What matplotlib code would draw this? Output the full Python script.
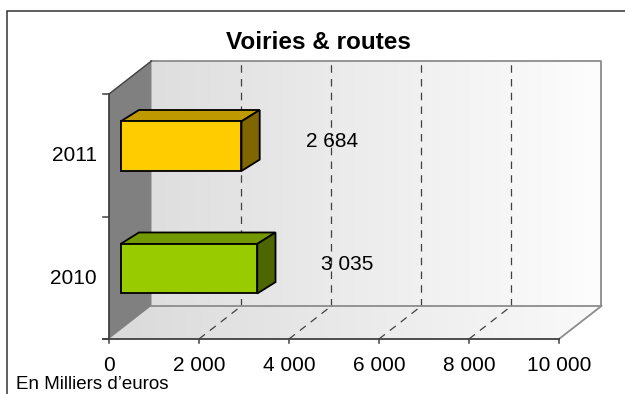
import numpy as np
import matplotlib
matplotlib.use('Agg')
import matplotlib.pyplot as plt
from matplotlib.patches import Polygon, Rectangle

# Données
categories = ['2010', '2011']
valeurs = [3035, 2684]
labels_valeurs = ['3 035', '2 684']
couleurs_face = ['#99CC00', '#FFCC00']
couleurs_dessus = ['#739900', '#BF9900']
couleurs_cote = ['#4D6600', '#806600']
ticks_x = [0, 2000, 4000, 6000, 8000, 10000]
labels_ticks_x = ['0', '2 000', '4 000', '6 000', '8 000', '10 000']

plt.rcParams['font.family'] = ['Liberation Sans', 'DejaVu Sans']

# Projection pseudo 3D (profondeur des murs, en unités de données)
xmax = 10000
dx, dy = 944, 0.27          # décalage du mur du fond
bx, by = 260, 0.074         # position des barres en profondeur
bdx, bdy = 405, 0.093       # épaisseur des barres
h_barre = 0.405
dark = '#404040'
gris_bord = '#8C8C8C'

fig = plt.figure(figsize=(6.25, 3.94), dpi=100)
ax = fig.add_axes([0, 0, 1, 1])
ax.axis('off')

# Cadre extérieur
fig.patches.append(Rectangle((7 / 625, -0.1), 1.2, 1.1 - 11 / 394, transform=fig.transFigure,
                             fill=False, edgecolor='#333333', linewidth=1.1))

# Mur du fond avec dégradé
grad = np.linspace(0, 1, 256).reshape(1, -1)
ax.imshow(grad, cmap=matplotlib.colors.LinearSegmentedColormap.from_list('g', ['#DEDEDE', '#FDFDFD']),
          extent=(dx, xmax + dx, dy, 2 + dy), aspect='auto', zorder=1)
ax.plot([dx, xmax + dx, xmax + dx], [2 + dy, 2 + dy, dy], color=gris_bord, lw=1.3, zorder=3)

# Sol avec dégradé
sol = Polygon([(0, 0), (xmax, 0), (xmax + dx, dy), (dx, dy)], closed=True,
              facecolor='none', edgecolor='none')
ax.add_patch(sol)
im = ax.imshow(grad, cmap=matplotlib.colors.LinearSegmentedColormap.from_list('s', ['#DADADA', '#FAFAFA']),
               extent=(0, xmax + dx, 0, dy), aspect='auto', zorder=1)
im.set_clip_path(sol)
ax.plot([dx, xmax + dx], [dy, dy], color=gris_bord, lw=1.3, zorder=3)
ax.plot([xmax, xmax + dx], [0, dy], color=gris_bord, lw=1.3, zorder=3)

# Mur de gauche
ax.add_patch(Polygon([(0, 0), (0, 2), (dx, 2 + dy), (dx, dy)], closed=True,
                     facecolor='#808080', edgecolor='none', zorder=2))
ax.plot([0, dx], [2, 2 + dy], color=dark, lw=1.0, zorder=3)

# Quadrillage en pointillés
for t in ticks_x[1:-1]:
    ax.plot([t + dx, t + dx], [dy, 2 + dy], color=dark, lw=0.9, dashes=(6, 5), zorder=2)
    ax.plot([t, t + dx], [0, dy], color=dark, lw=0.9, dashes=(6, 5), zorder=2)

# Axes
ax.plot([-130, xmax], [0, 0], color=dark, lw=1.3, zorder=4)
ax.plot([0, 0], [0, 2], color=dark, lw=1.3, zorder=4)
for t, lab in zip(ticks_x, labels_ticks_x):
    ax.plot([t, t], [0, -0.035], color=dark, lw=1.1, zorder=4)
    ax.text(t, -0.262, lab, ha='center', va='baseline', fontsize=15)
for yt in [0, 1, 2]:
    ax.plot([-135, 0], [yt, yt], color=dark, lw=1.1, zorder=4)

# Barres 3D
for i, (cat, v) in enumerate(zip(categories, valeurs)):
    x0 = bx
    y0 = i + 0.5 - h_barre / 2 + by
    face = [(x0, y0), (x0 + v, y0), (x0 + v, y0 + h_barre), (x0, y0 + h_barre)]
    dessus = [(x0, y0 + h_barre), (x0 + v, y0 + h_barre),
              (x0 + v + bdx, y0 + h_barre + bdy), (x0 + bdx, y0 + h_barre + bdy)]
    cote = [(x0 + v, y0), (x0 + v + bdx, y0 + bdy),
            (x0 + v + bdx, y0 + h_barre + bdy), (x0 + v, y0 + h_barre)]
    for pts, c in [(dessus, couleurs_dessus[i]), (cote, couleurs_cote[i]), (face, couleurs_face[i])]:
        ax.add_patch(Polygon(pts, closed=True, facecolor=c, edgecolor='black',
                             linewidth=1.3, joinstyle='miter', zorder=5))
    ax.text(v + 2262, i + 0.565, labels_valeurs[i], ha='center', va='baseline', fontsize=15, zorder=6)
    ax.text(-267, i + 0.45, cat, ha='right', va='baseline', fontsize=15)

ax.set_xlim(-109 / 0.045, (625 - 109) / 0.045)
ax.set_ylim(-55 / 122.5, (394 - 55) / 122.5)

fig.text(318 / 625, 1 - 49 / 394, 'Voiries & routes', ha='center', va='baseline',
         fontsize=17.5, fontweight='bold')
fig.text(16 / 625, 1 - 389 / 394, 'En Milliers d’euros', ha='left', va='baseline', fontsize=13.5)

plt.savefig('out.png', dpi=100)
